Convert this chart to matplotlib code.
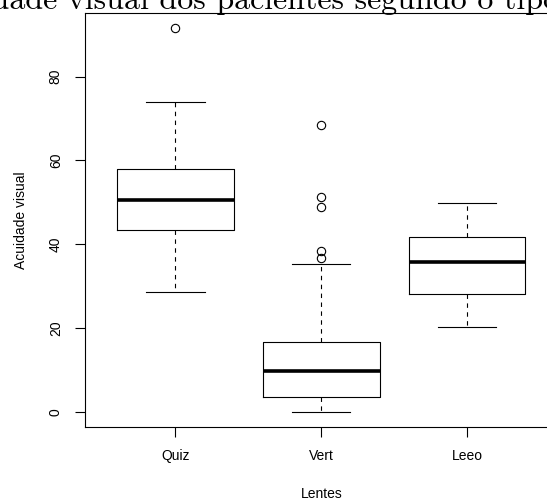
import matplotlib
matplotlib.use("Agg")
import matplotlib.pyplot as plt

# values
lentes = ["Quiz", "Vert", "Leeo"]
medianas = [50.5, 9.8, 35.8]
q1 = [43.3, 3.5, 28.0]
q3 = [57.9, 16.7, 41.8]
bigode_inf = [28.6, 0.0, 20.2]
bigode_sup = [73.9, 35.2, 49.9]
outliers = [[91.5], [68.4, 51.2, 48.8, 38.4, 36.6], []]
y_ticks = [0, 20, 40, 60, 80]

W, H = 547, 500
fig = plt.figure(figsize=(W / 100, H / 100), dpi=100)
# plot region in pixels (right edge runs past the canvas, as in the reference)
left, right, top, bottom = 85, 557.5, 13, 427
ax = fig.add_axes([left / W, 1 - bottom / H, (right - left) / W, (bottom - top) / H])

stats = []
for i, nome in enumerate(lentes):
    stats.append(dict(label=nome, med=medianas[i], q1=q1[i], q3=q3[i],
                      whislo=bigode_inf[i], whishi=bigode_sup[i],
                      fliers=outliers[i]))

ax.bxp(stats, positions=[1, 2, 3], widths=0.8, capwidths=0.4,
       boxprops=dict(color="black", linewidth=0.8),
       medianprops=dict(color="black", linewidth=2.6, solid_capstyle="butt"),
       whiskerprops=dict(color="black", linewidth=0.8, linestyle=(0, (4, 4))),
       capprops=dict(color="black", linewidth=0.8),
       flierprops=dict(marker="o", markerfacecolor="none", markeredgecolor="black",
                       markersize=6, markeredgewidth=0.8))

ax.set_xlim(0.38, 3.62)
ax.set_ylim(-3.66, 95.2)
ax.set_yticks(y_ticks)
ax.set_yticklabels([str(t) for t in y_ticks], rotation=90, va="center",
                   fontsize=10, family="Liberation Sans")
ax.set_xticks([1, 2, 3])
ax.set_xticklabels(lentes, fontsize=10, family="Liberation Sans")
ax.tick_params(direction="out", length=7, width=0.8, pad=9)
for s in ax.spines.values():
    s.set_linewidth(0.8)

ax.set_xlabel("Lentes", fontsize=10, family="Liberation Sans", labelpad=17)
ax.set_ylabel("Acuidade visual", fontsize=10, family="Liberation Sans", labelpad=15)

# title is larger than the canvas in the reference, so it is cropped on every side
fig.text(303 / W, 1 - 9 / H,
         "Acuidade visual dos pacientes segundo o tipo de lente",
         ha="center", va="baseline", fontsize=23, family="cmr10")

fig.savefig("out.png", dpi=100)
